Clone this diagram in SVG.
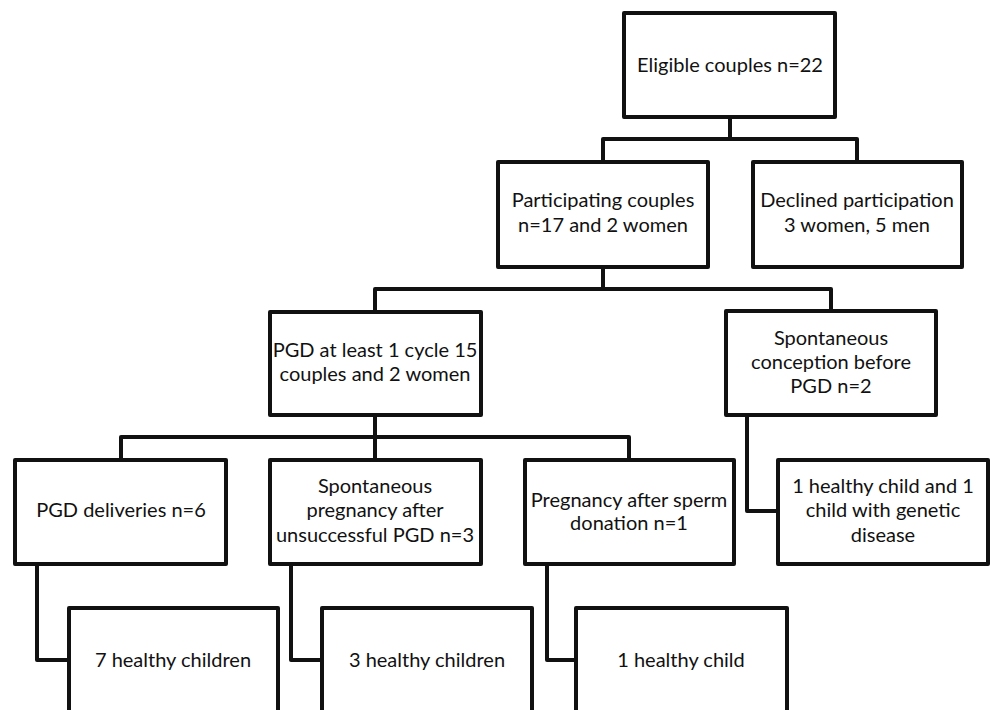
<svg xmlns="http://www.w3.org/2000/svg" width="990" height="710" viewBox="0 0 990 710">
<style>
.box{fill:#fff;stroke:#111;stroke-width:4;stroke-linejoin:round}
.con{fill:none;stroke:#111;stroke-width:4;stroke-linejoin:round}
text{font-family:Lato,"Liberation Sans",sans-serif;font-size:20px;fill:#111;text-anchor:middle}
</style>
<rect width="990" height="710" fill="#fff"/>
<g id="connectors">
<path class="con" d="M730 117V139M603 162V139H857V162"/>
<path class="con" d="M603 267V289M375 312V289H831V311"/>
<path class="con" d="M375 415V437M121 460V437H629V460M375 437V460"/>
<path class="con" d="M747 415V511H778"/>
<path class="con" d="M37 564V660H69"/>
<path class="con" d="M291 564V660H322"/>
<path class="con" d="M547 564V660H576"/>
</g>
<g id="eligible"><rect class="box" x="624" y="13" width="211" height="104"/><text x="730" y="72">Eligible couples n=22</text></g>
<g id="participating"><rect class="box" x="498" y="162" width="210" height="105"/><text x="603" y="207">Participating couples</text><text x="603" y="232">n=17 and 2 women</text></g>
<g id="declined"><rect class="box" x="753" y="162" width="209" height="105"/><text x="857" y="207">Declined participation</text><text x="857" y="232">3 women, 5 men</text></g>
<g id="pgd"><rect class="box" x="270" y="312" width="211" height="103"/><text x="375" y="357">PGD at least 1 cycle 15</text><text x="375" y="381">couples and 2 women</text></g>
<g id="spont-conception"><rect class="box" x="726" y="311" width="210" height="104"/><text x="831" y="345">Spontaneous</text><text x="831" y="369">conception before</text><text x="831" y="393">PGD n=2</text></g>
<g id="pgd-deliveries"><rect class="box" x="15" y="460" width="211" height="104"/><text x="121" y="517">PGD deliveries n=6</text></g>
<g id="spont-pregnancy"><rect class="box" x="270" y="460" width="211" height="104"/><text x="375" y="493">Spontaneous</text><text x="375" y="517">pregnancy after</text><text x="375" y="542">unsuccessful PGD n=3</text></g>
<g id="sperm-donation"><rect class="box" x="525" y="460" width="209" height="104"/><text x="629" y="507">Pregnancy after sperm</text><text x="629" y="530">donation n=1</text></g>
<g id="genetic"><rect class="box" x="778" y="460" width="210" height="104"/><text x="883" y="493">1 healthy child and 1</text><text x="883" y="517">child with genetic</text><text x="883" y="542">disease</text></g>
<g id="seven-healthy"><rect class="box" x="69" y="608" width="209" height="120"/><text x="173" y="667">7 healthy children</text></g>
<g id="three-healthy"><rect class="box" x="322" y="608" width="210" height="120"/><text x="427" y="667">3 healthy children</text></g>
<g id="one-healthy"><rect class="box" x="576" y="608" width="211" height="120"/><text x="681" y="667">1 healthy child</text></g>
</svg>
